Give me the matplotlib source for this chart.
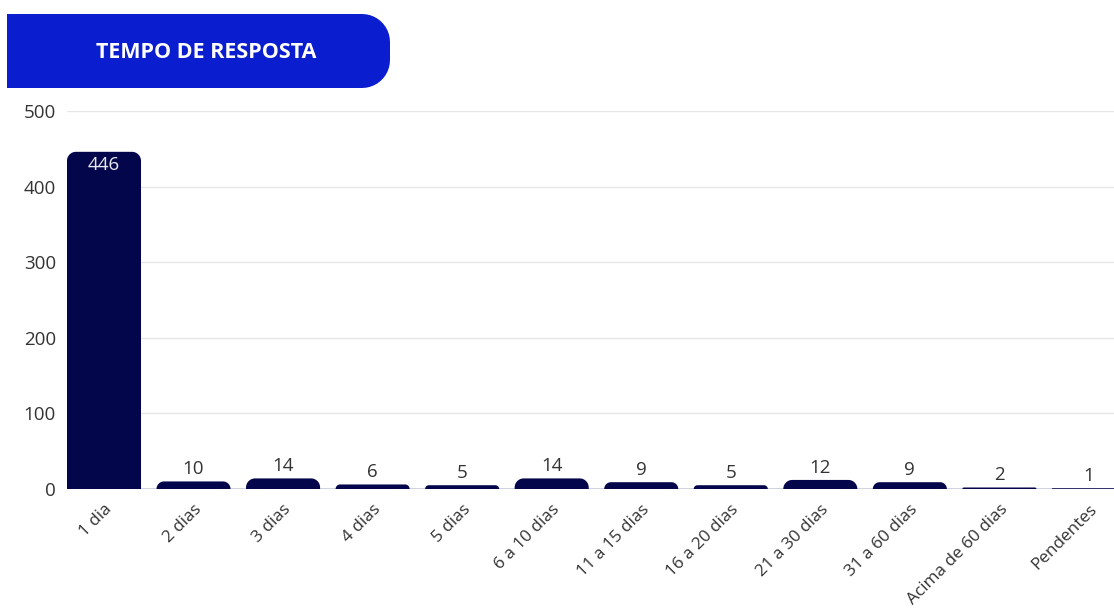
import numpy as np
import matplotlib.pyplot as plt
from matplotlib.patches import Polygon

categories = ['1 dia', '2 dias', '3 dias', '4 dias', '5 dias', '6 a 10 dias', '11 a 15 dias',
              '16 a 20 dias', '21 a 30 dias', '31 a 60 dias', 'Acima de 60 dias', 'Pendentes']
counts = [446, 10, 14, 6, 5, 14, 9, 5, 12, 9, 2, 1]
y_ticks = [0, 100, 200, 300, 400, 500]

BAR_COLOR = '#03064b'
BANNER_COLOR = '#0a1ed0'
TEXT_COLOR = '#333333'

W, H = 1114, 608
plt.rcParams['font.family'] = ['Open Sans', 'DejaVu Sans']

fig = plt.figure(figsize=(W / 100, H / 100), dpi=100)
ax = fig.add_axes([67 / W, 1 - 489 / H, 1 - 67 / W, (489 - 111) / H])

width = 0.827
ax.set_xlim(-0.413, 11.28)
ax.set_ylim(0, 500)
fig.canvas.draw()

# px -> data scale, for round corners that stay circular on screen
x_per_px = (11.28 + 0.413) / ax.bbox.width
y_per_px = 500 / ax.bbox.height
r_px = 9


def rounded_bar(x, h):
    left, right = x - width / 2, x + width / 2
    h_px = h / y_per_px
    r = min(r_px, h_px)
    rx, ry = r * x_per_px, r * y_per_px
    pts = [(left, 0)]
    for t in np.linspace(np.pi, np.pi / 2, 12):
        pts.append((left + rx + rx * np.cos(t), h - ry + ry * np.sin(t)))
    for t in np.linspace(np.pi / 2, 0, 12):
        pts.append((right - rx + rx * np.cos(t), h - ry + ry * np.sin(t)))
    pts.append((right, 0))
    return Polygon(pts, closed=True, facecolor=BAR_COLOR, edgecolor='none', zorder=3)


for i, v in enumerate(counts):
    ax.add_patch(rounded_bar(i, v))
    if v > 100:
        ax.text(i, v - 6, str(v), ha='center', va='top', color='#e8e8f0', fontsize=13.5, zorder=4)
    else:
        ax.text(i, v + 4, str(v), ha='center', va='bottom', color=TEXT_COLOR, fontsize=13.5, zorder=4)

ax.set_yticks(y_ticks)
ax.set_yticklabels([str(t) for t in y_ticks], fontsize=13.5, color=TEXT_COLOR)
ax.set_xticks(range(len(categories)))
ax.set_xticklabels(categories, rotation=45, ha='right', rotation_mode='anchor',
                   fontsize=12.3, color=TEXT_COLOR)
ax.tick_params(length=0)
ax.tick_params(axis='y', pad=8)
ax.tick_params(axis='x', pad=9)
ax.grid(axis='y', color='#e6e6e6', linewidth=1, zorder=0)
for s in ax.spines.values():
    s.set_visible(False)
ax.axhline(0, color='#c8ccd8', linewidth=1.2, zorder=2)

# title banner, square on the left, rounded on the right
bx0, bx1, by0, by1, br = 7, 390, 14, 88, 28
pts = [(bx0, by0)]
for t in np.linspace(np.pi / 2, 0, 12):
    pts.append((bx1 - br + br * np.cos(t), by0 + br - br * np.sin(t)))
for t in np.linspace(0, -np.pi / 2, 12):
    pts.append((bx1 - br + br * np.cos(t), by1 - br - br * np.sin(t)))
pts.append((bx0, by1))
fig.patches.append(Polygon([(x / W, 1 - y / H) for x, y in pts], closed=True,
                           transform=fig.transFigure, facecolor=BANNER_COLOR, edgecolor='none'))
fig.text(206 / W, 1 - 52 / H, 'TEMPO DE RESPOSTA', ha='center', va='center',
         color='white', fontsize=15.5, fontweight='bold')

fig.savefig('out.png', dpi=100)
